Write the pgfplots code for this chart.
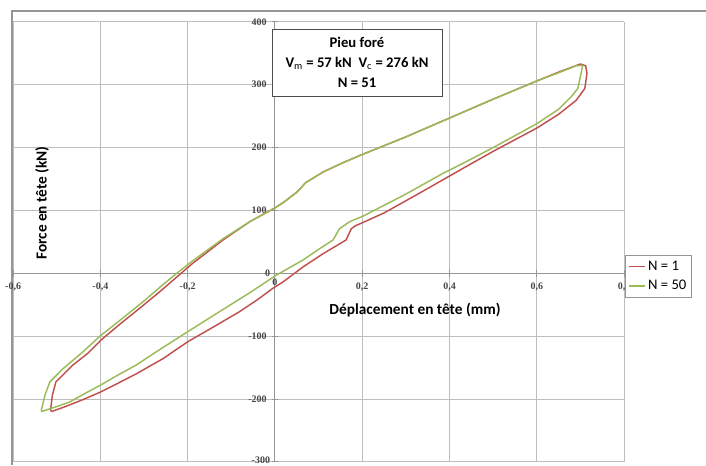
\documentclass[border=0pt]{standalone}
\usepackage{fontspec}
\setmainfont{Carlito}
\newfontfamily\tickfont{Liberation Serif}
\usepackage{pgfplots}
\pgfplotsset{compat=1.18}
\definecolor{xlred}{RGB}{192,80,77}
\definecolor{xlgreen}{RGB}{155,187,89}
\definecolor{xlgrid}{RGB}{190,190,190}
\definecolor{xlaxis}{RGB}{150,150,150}
\definecolor{xltick}{RGB}{70,70,70}

\begin{document}
\begin{tikzpicture}[x=0.75pt,y=0.75pt]
  \useasboundingbox (0,0) rectangle (706,465);
  % outer chart frame
  \draw[xlaxis, line width=0.8pt] (12,0) -- (12,454) -- (706,454);
  \begin{axis}[
    at={(30,5)}, anchor=south west,
    scale only axis,
    width=458.25pt, height=330pt,
    xmin=-0.6, xmax=0.8,
    ymin=-300, ymax=400,
    axis lines=middle,
    axis line style={xlaxis, line width=0.8pt, -},
    grid=major,
    grid style={xlgrid, line width=0.7pt},
    xtick={-0.6,-0.4,-0.2,0,0.2,0.4,0.6,0.8},
    ytick={-300,-200,-100,0,100,200,300,400},
    xticklabels={{-0,6},{-0,4},{-0,2},{0},{0,2},{0,4},{0,6},{0,8}},
    yticklabels={{},{-200},{-100},{0},{100},{200},{300},{400}},
    major tick length=5pt,
    tick style={xlaxis, line width=0.6pt},
    tick align=center,
    xticklabel style={font=\tickfont\fontsize{7.5}{8}\selectfont\bfseries, text=xltick, anchor=north, yshift=-1pt},
    yticklabel style={font=\tickfont\fontsize{7.5}{8}\selectfont\bfseries, text=xltick, anchor=east,
                      inner sep=0.5pt, xshift=-3pt},
    legend style={at={(1.0016,0.470)}, anchor=north west,
                  draw=xlaxis, line width=0.6pt, fill=white,
                  font=\fontsize{11}{13}\selectfont,
                  inner xsep=2pt, inner ysep=2pt,
                  row sep=2pt},
    legend cell align=left,
    legend image code/.code={\draw[#1, line width=1pt] (0pt,0pt) -- (12pt,0pt);},
    clip=false,
  ]
    % N = 1
    \addplot[xlred, line width=1.1pt, line join=round] coordinates {
      (-0.512,-220) (-0.48,-212) (-0.44,-201) (-0.4,-189) (-0.36,-175)
      (-0.318,-160) (-0.257,-136) (-0.2,-109) (-0.14,-85) (-0.081,-61)
      (-0.04,-42) (-0.005,-24) (0.018,-14) (0.064,10) (0.11,31)
      (0.163,53) (0.175,71) (0.183,75) (0.25,96) (0.33,127)
      (0.431,167) (0.5,194) (0.6,231) (0.65,253) (0.69,275)
      (0.71,294) (0.715,318) (0.712,330) (0.70,333) (0.65,320)
      (0.6,306) (0.5,277) (0.4,247) (0.3,217) (0.2,189)
      (0.156,176) (0.11,161) (0.07,144) (0.057,134) (0.05,129)
      (0.02,113) (0,104) (-0.058,82) (-0.119,53) (-0.19,15)
      (-0.215,0) (-0.26,-27) (-0.3,-50) (-0.35,-78) (-0.395,-104)
      (-0.43,-128) (-0.463,-146) (-0.502,-173) (-0.51,-194) (-0.514,-217)
      (-0.512,-220)
    };
    \addlegendentry{N = 1}
    % N = 50
    \addplot[xlgreen, line width=1.1pt, line join=round] coordinates {
      (-0.535,-220) (-0.5,-212) (-0.471,-205) (-0.44,-193) (-0.4,-178)
      (-0.36,-162) (-0.318,-146) (-0.261,-120) (-0.2,-93) (-0.127,-61)
      (-0.06,-32) (0.003,-3) (0.064,21) (0.1,38) (0.133,53)
      (0.148,71) (0.171,82) (0.202,91) (0.3,126) (0.385,159)
      (0.431,175) (0.5,200) (0.6,238) (0.65,261) (0.679,281)
      (0.694,294) (0.702,320) (0.705,331) (0.69,330) (0.65,319)
      (0.6,306) (0.5,277) (0.4,247) (0.3,217) (0.2,189)
      (0.156,176) (0.11,161) (0.07,144) (0.057,134) (0.05,129)
      (0.02,113) (0,104) (-0.058,82) (-0.119,55) (-0.19,19)
      (-0.225,0) (-0.26,-20) (-0.3,-44) (-0.35,-72) (-0.401,-100)
      (-0.44,-125) (-0.486,-152) (-0.516,-173) (-0.527,-194) (-0.535,-217)
      (-0.535,-220)
    };
    \addlegendentry{N = 50}
    % origin tick labels, which axis lines=middle leaves out
    \node[font=\tickfont\fontsize{7.5}{8}\selectfont\bfseries, text=xltick, anchor=north, yshift=-1pt]
      at (axis cs:0,0) {0};
    \node[font=\tickfont\fontsize{7.5}{8}\selectfont\bfseries, text=xltick, anchor=east,
          inner sep=0.5pt, xshift=-3pt]
      at (axis cs:0,0) {0};
    % bottom tick label, lifted a little so it stays on the page
    \node[font=\tickfont\fontsize{7.5}{8}\selectfont\bfseries, text=xltick, anchor=south east,
          inner sep=0.5pt, xshift=-3pt, yshift=-2.2pt]
      at (axis cs:0,-300) {-300};
  \end{axis}
  % text box
  \draw[black!70, line width=0.6pt, fill=white] (272,369) rectangle (442,436);
  \node[font=\fontsize{11}{15}\selectfont\bfseries, align=center] at (357,402.5)
    {Pieu foré\\V$_{\mathrm{m}}$ = 57 kN\ \ V$_{\mathrm{c}}$ = 276 kN\\N = 51};
  % axis titles
  \node[font=\fontsize{11.5}{13}\selectfont\bfseries, rotate=90] at (42,262) {Force en tête (kN)};
  \node[font=\fontsize{11.5}{13}\selectfont\bfseries] at (415,155) {Déplacement en tête (mm)};
\end{tikzpicture}
\end{document}
